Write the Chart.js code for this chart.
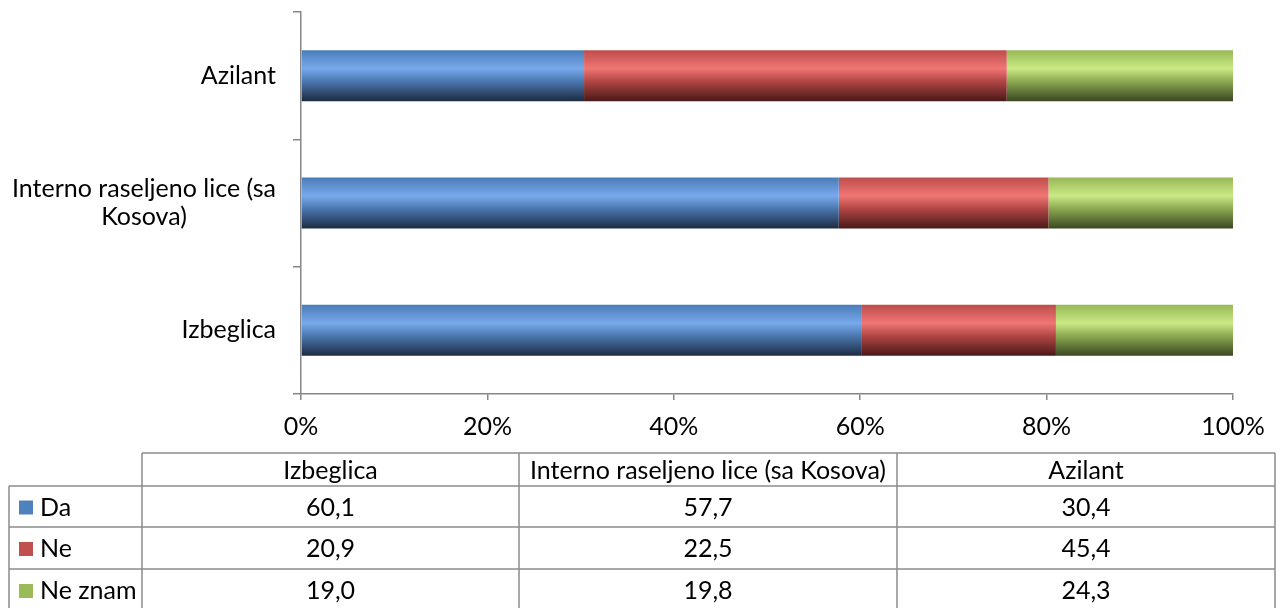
<!DOCTYPE html>
<html>
<head>
<meta charset="utf-8">
<script src="https://cdn.jsdelivr.net/npm/chart.js@4"></script>
<style>
  body { margin: 0; background: #fff; }
  #okvir { width: 1283px; height: 608px; }
</style>
</head>
<body>
<div id="okvir"><canvas id="grafik" width="1283" height="608"></canvas></div>
<script>
// -------------------- PODACI --------------------
const kategorije = ['Izbeglica', 'Interno raseljeno lice (sa Kosova)', 'Azilant'];
const serije = ['Da', 'Ne', 'Ne znam'];
const da = [60.1, 57.7, 30.4];
const ne = [20.9, 22.5, 45.4];
const neZnam = [19.0, 19.8, 24.3];
const xOznake = [0, 20, 40, 60, 80, 100];

const vrednosti = [da, ne, neZnam];
const osnovneBoje = ['#4f81bd', '#c0504d', '#9bbb59'];
const gradijentBoje = [
  ['#4a7cb9', '#78a9ec', '#4a76ad', '#1c2b42'],
  ['#bd4d4a', '#f07674', '#ae4543', '#481918'],
  ['#98b857', '#c9ea84', '#8aa650', '#3b4822'],
];

const FONT = 'Lato, "Open Sans", sans-serif';
const VELICINA = 25;
const BAR_UDEO = 0.4;

// zbir po kategoriji, za 100% prikaz
const zbirovi = kategorije.map((_, i) => vrednosti.reduce((s, v) => s + v[i], 0));

function gradijent(idx) {
  return ctx => {
    const chart = ctx.chart;
    const y = chart.scales.y;
    if (ctx.type !== 'data' || !y || !chart.chartArea) return osnovneBoje[idx];
    const korak = y.height / kategorije.length;
    const c = y.getPixelForValue(ctx.dataIndex);
    const d = korak * BAR_UDEO;
    const g = chart.ctx.createLinearGradient(0, c - d / 2, 0, c + d / 2);
    const b = gradijentBoje[idx];
    g.addColorStop(0, b[0]);
    g.addColorStop(0.36, b[1]);
    g.addColorStop(0.62, b[2]);
    g.addColorStop(1, b[3]);
    return g;
  };
}

function prelomi(tekst, max) {
  const reci = tekst.split(' ');
  const redovi = [];
  let red = '';
  reci.forEach(r => {
    const probni = red ? red + ' ' + r : r;
    if (probni.length > max && red) {
      redovi.push(red);
      red = r;
    } else {
      red = probni;
    }
  });
  redovi.push(red);
  return redovi;
}

function formatBroj(v) {
  return v.toFixed(1).replace('.', ',');
}

// -------------------- OZNAKE KATEGORIJA (desno poravnate, redovi centrirani) --------------------
const oznakePlugin = {
  id: 'oznake',
  afterDraw(chart) {
    const y = chart.scales.y;
    const c = chart.ctx;
    const desno = y.right - 25;
    const visinaReda = 28;
    c.save();
    c.fillStyle = '#000';
    c.font = VELICINA + 'px ' + FONT;
    c.textAlign = 'center';
    c.textBaseline = 'middle';
    kategorije.forEach((kat, i) => {
      const redovi = prelomi(kat, 26);
      const sirina = Math.max(...redovi.map(r => c.measureText(r).width));
      const cx = desno - sirina / 2;
      const cy = y.getPixelForTick(i);
      redovi.forEach((r, j) => {
        c.fillText(r, cx, cy + (j - (redovi.length - 1) / 2) * visinaReda);
      });
    });
    c.restore();
  }
};

// -------------------- TABELA PODATAKA --------------------
const tabelaPlugin = {
  id: 'tabela',
  afterDraw(chart) {
    const c = chart.ctx;
    const kolone = [9, 142, 519, 897, 1275];
    const redovi = [453, 486, 527, 569, 611];
    c.save();
    c.strokeStyle = '#8c8c8c';
    c.lineWidth = 1.5;

    // horizontalne linije
    c.beginPath();
    c.moveTo(kolone[1], redovi[0]);
    c.lineTo(kolone[4], redovi[0]);
    for (let r = 1; r < redovi.length; r++) {
      c.moveTo(kolone[0], redovi[r]);
      c.lineTo(kolone[4], redovi[r]);
    }
    // vertikalne linije
    c.moveTo(kolone[0], redovi[1]);
    c.lineTo(kolone[0], redovi[4]);
    for (let k = 1; k < kolone.length; k++) {
      c.moveTo(kolone[k], redovi[0]);
      c.lineTo(kolone[k], redovi[4]);
    }
    c.stroke();

    c.fillStyle = '#000';
    c.font = VELICINA + 'px ' + FONT;
    c.textBaseline = 'middle';
    c.textAlign = 'center';

    kategorije.forEach((kat, i) => {
      const x = (kolone[i + 1] + kolone[i + 2]) / 2;
      c.fillText(kat, x, (redovi[0] + redovi[1]) / 2 + 1);
    });

    serije.forEach((s, r) => {
      const yc = (redovi[r + 1] + redovi[r + 2]) / 2 + 1;
      c.fillStyle = osnovneBoje[r];
      c.fillRect(kolone[0] + 10, yc - 7, 14, 14);
      c.fillStyle = '#000';
      c.textAlign = 'left';
      c.fillText(s, kolone[0] + 31, yc);
      c.textAlign = 'center';
      vrednosti[r].forEach((v, i) => {
        const x = (kolone[i + 1] + kolone[i + 2]) / 2;
        c.fillText(formatBroj(v), x, yc);
      });
    });
    c.restore();
  }
};

// -------------------- GRAFIK --------------------
const ctx = document.getElementById('grafik').getContext('2d');

new Chart(ctx, {
  type: 'bar',
  data: {
    labels: kategorije,
    datasets: serije.map((s, idx) => ({
      label: s,
      data: vrednosti[idx].map((v, i) => v / zbirovi[i] * 100),
      backgroundColor: gradijent(idx),
      borderWidth: 0,
      categoryPercentage: 1,
      barPercentage: BAR_UDEO,
    }))
  },
  options: {
    indexAxis: 'y',
    responsive: false,
    animation: false,
    layout: { padding: { top: 12, right: 50, left: 0, bottom: 0 } },
    plugins: {
      legend: { display: false },
      tooltip: { enabled: false },
    },
    scales: {
      x: {
        stacked: true,
        min: 0,
        max: 100,
        afterBuildTicks: scale => {
          scale.ticks = xOznake.map(v => ({ value: v }));
        },
        afterFit: scale => {
          scale.height = 214;
          scale.paddingLeft = 0;
          scale.paddingRight = 0;
        },
        grid: {
          drawOnChartArea: false,
          drawTicks: true,
          tickLength: 6,
          color: '#868686',
          lineWidth: 1.5,
        },
        border: { color: '#868686', width: 1.5 },
        ticks: {
          callback: v => v + '%',
          color: '#000',
          padding: 12,
          maxRotation: 0,
          font: { family: FONT, size: VELICINA },
        },
      },
      y: {
        stacked: true,
        reverse: true,
        afterFit: scale => {
          scale.width = 301;
          scale.paddingTop = 0;
          scale.paddingBottom = 0;
        },
        grid: {
          drawOnChartArea: false,
          drawTicks: true,
          tickLength: 8,
          offset: true,
          color: '#868686',
          lineWidth: 1.5,
        },
        border: { color: '#868686', width: 1.5 },
        ticks: { display: false },
      },
    },
  },
  plugins: [oznakePlugin, tabelaPlugin],
});
</script>
</body>
</html>
